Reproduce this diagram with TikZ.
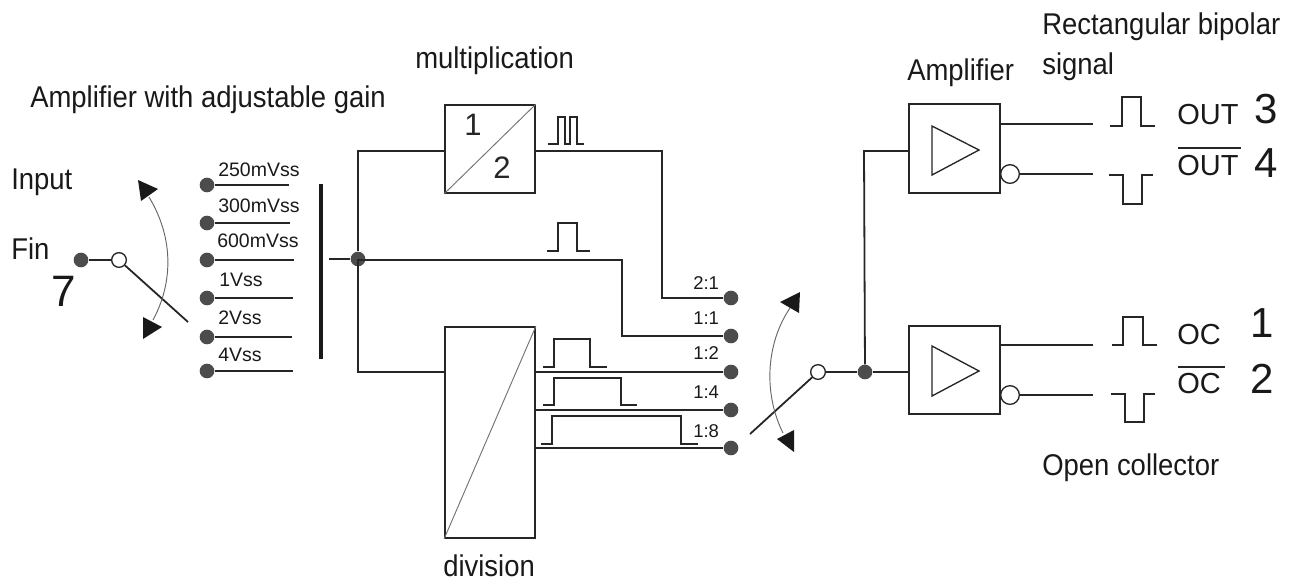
\documentclass[tikz,border=0pt]{standalone}
\usepackage{fontspec}
\setmainfont{Liberation Sans}
\newfontfamily\narrowfont[FakeStretch=0.915]{Liberation Sans}
\makeatletter
\newcommand{\fpx}[1]{\fontsize{\strip@pt\dimexpr#1pt*3/4\relax pt}{\strip@pt\dimexpr#1pt*3/4\relax pt}\selectfont}
\makeatother
\tikzset{
  x=0.75pt,y=-0.75pt,
  wire/.style={draw=black!85,line width=1.35pt},
  thinwire/.style={draw=black!85,line width=1pt},
  dot/.style={circle,fill=black!70,draw=none,inner sep=0pt,minimum size=11pt},
  hole/.style={circle,fill=white,draw=black!85,line width=1pt,inner sep=0pt,minimum size=11pt},
  bubble/.style={circle,fill=white,draw=black!85,line width=1pt,inner sep=0pt,minimum size=14pt},
  blockbox/.style={rectangle,draw=black!85,line width=1.35pt,fill=white,inner sep=0pt},
  head/.style={fill=black!90,draw=none},
  txt/.style={anchor=base west,inner sep=0pt,text=black!90},
  title/.style={txt,font=\narrowfont\fpx{30}},
  small/.style={txt,font=\fpx{19.5}},
  ratio/.style={txt,font=\fpx{18.5}},
  pin/.style={anchor=base,inner sep=0pt,text=black!85,font=\fpx{31}},
  arcline/.style={draw=black!60,line width=0.7pt},
}
\begin{document}
\begin{tikzpicture}
\useasboundingbox (0,0) rectangle (1296,583);
% titles
\node[title] (tAdj) at (30,107) {Amplifier with adjustable gain};
\node[title] (tInput) at (11,189) {Input};
\node[title] (tFin) at (11,259) {Fin};
\node[txt,font=\fpx{44}] (tSeven) at (51,306) {7};
\node[title] (tMul) at (415,68) {multiplication};
\node[title] (tDiv) at (443,576) {division};
\node[title] (tAmp) at (907,80) {Amplifier};
\node[title] (tRect) at (1042,34) {Rectangular bipolar};
\node[title] (tSig) at (1042,74) {signal};
\node[title] (tOC) at (1042,475) {Open collector};
% left switch
\node[dot] (fin) at (81,260) {};
\node[hole] (swL) at (119,260) {};
\coordinate (wipL) at (188,322);
\draw[thinwire] (fin) -- (swL);
\draw[wire] (swL) -- (wipL);
\coordinate (arcLa) at (149,197);
\coordinate (arcLb) at (153,320);
\draw[arcline] (arcLa) .. controls (175,240) and (172,285) .. (arcLb);
\fill[head] (138,180) -- (158,189) -- (141,201) -- cycle;
\fill[head] (143,317) -- (162,327) -- (143,339) -- cycle;
% gain rows
\foreach \n/\y/\e/\t/\lx/\ly in {a/185/289/250mVss/218/176,b/223/290/300mVss/218/212,c/260/294/600mVss/217/247,d/298/293/1Vss/219/286,e/337/292/2Vss/218/324,f/371/293/4Vss/218/361}{
  \node[dot] (g\n) at (207,\y) {};
  \coordinate (ge\n) at (\e,\y);
  \draw[wire] (g\n) -- (ge\n);
  \node[small] (gl\n) at (\lx,\ly) {\t};
}
% bar
\coordinate (barT) at (321,184);
\coordinate (barB) at (321,359);
\draw[draw=black!90,line width=2.4pt] (barT) -- (barB);
% junction
\coordinate (stub) at (329,259);
\node[dot] (jn) at (358,259) {};
% blocks
\node[blockbox,minimum width=67.5pt,minimum height=66pt] (mul) at (490,149) {};
\node[blockbox,minimum width=67.5pt,minimum height=158.25pt] (div) at (490,432.5) {};
\draw[draw=black!55,line width=0.7pt] (mul.south west) -- (mul.north east);
\draw[draw=black!55,line width=0.7pt] (div.south west) -- (div.north east);
\node[pin] (one) at (473,135) {1};
\node[pin] (two) at (502,178) {2};
% connections
\coordinate (m1) at (358,151);
\coordinate (d1) at (358,372);
\coordinate (m3) at (662,151);
\coordinate (m4) at (662,298);
\coordinate (n1) at (622,260);
\coordinate (n2) at (622,336);
\node[dot] (o1) at (731,298) {};
\node[dot] (o2) at (731,336) {};
\node[dot] (o3) at (731,372) {};
\node[dot] (o4) at (731,410) {};
\node[dot] (o5) at (731,448) {};
\draw[wire] (stub) -- (jn) -- (358,260) -- (n1) -- (n2) -- (o2);
\draw[wire] (mul.west |- m1) -- (m1) -- (jn) -- (d1) -- (div.west |- d1);
\draw[wire] (mul.east |- m1) -- (m3) -- (m4) -- (o1);
\draw[wire] (div.east |- o3) -- (o3);
\draw[wire] (div.east |- o4) -- (o4);
\draw[wire] (div.east |- o5) -- (o5);
\foreach \t/\ly/\nm in {2:1/289/ra,1:1/324/rb,1:2/359/rc,1:4/398/rd,1:8/437/re}{
  \node[ratio] (\nm) at (693,\ly) {\t};
}
% middle pulses
\draw[thinwire] (548,144) -- (558,144) -- (558,117) -- (565,117) -- (565,144) -- (570,144) -- (570,117) -- (577,117) -- (577,144) -- (584,144);
\draw[thinwire] (547,251) -- (558,251) -- (558,223) -- (577,223) -- (577,251) -- (590,251);
\draw[thinwire] (543,367) -- (554,367) -- (554,339) -- (590,339) -- (590,367) -- (607,367);
\draw[thinwire] (543,405) -- (554,405) -- (554,378) -- (621,378) -- (621,405) -- (637,405);
\draw[thinwire] (541,444) -- (552,444) -- (552,416) -- (681,416) -- (681,444) -- (698,444);
% right switch
\node[hole] (swR) at (818,372) {};
\node[dot] (jr) at (865,372) {};
\coordinate (wipR) at (750,434);
\draw[wire] (swR) -- (wipR);
\draw[arcline] (790,308) .. controls (765,345) and (764,395) .. (783,433);
\fill[head] (780,302) -- (800,292) -- (799,313) -- cycle;
\fill[head] (777,439) -- (794,430) -- (794,452) -- cycle;
% amplifiers
\node[blockbox,minimum width=68.25pt,minimum height=66.5pt] (ampA) at (954.5,148.5) {};
\node[blockbox,minimum width=68.25pt,minimum height=66.5pt] (ampB) at (954.5,370) {};
\coordinate (up) at (864,151);
\draw[wire] (swR) -- (jr) -- (ampB.west |- jr);
\draw[wire] (jr) -- (up) -- (ampA.west |- up);
\draw[thinwire] (932,126) -- (979,150) -- (932,175) -- cycle;
\draw[thinwire] (932,346) -- (979,371) -- (932,396) -- cycle;
\node[bubble] (bA) at (1010,174) {};
\node[bubble] (bB) at (1010,395) {};
\coordinate (eA1) at (1093,124);
\coordinate (eA2) at (1093,174);
\coordinate (eB1) at (1093,345);
\coordinate (eB2) at (1093,395);
\draw[wire] (ampA.east |- eA1) -- (eA1);
\draw[wire] (bA) -- (eA2);
\draw[wire] (ampB.east |- eB1) -- (eB1);
\draw[wire] (bB) -- (eB2);
% output pulses
\draw[thinwire] (1110,126) -- (1122,126) -- (1122,97) -- (1141,97) -- (1141,126) -- (1155,126);
\draw[thinwire] (1109,175) -- (1123,175) -- (1123,204) -- (1142,204) -- (1142,175) -- (1153,175);
\draw[thinwire] (1112,345) -- (1123,345) -- (1123,317) -- (1143,317) -- (1143,345) -- (1157,345);
\draw[thinwire] (1111,394) -- (1125,394) -- (1125,422) -- (1144,422) -- (1144,394) -- (1155,394);
% output labels
\node[txt,font=\fpx{29}] (lOut) at (1177,124) {OUT};
\node[txt,font=\fpx{29}] (lNout) at (1177,175) {OUT};
\node[txt,font=\fpx{29}] (lOc) at (1177,344) {OC};
\node[txt,font=\fpx{29}] (lNoc) at (1177,393) {OC};
\draw[thinwire] (1178,148) -- (1241,148);
\draw[thinwire] (1178,367) -- (1225,367);
\node[txt,font=\fpx{42}] (n3) at (1254,123) {3};
\node[txt,font=\fpx{42}] (n4) at (1254,177) {4};
\node[txt,font=\fpx{42}] (n1b) at (1250,337) {1};
\node[txt,font=\fpx{42}] (n2b) at (1250,393) {2};
\end{tikzpicture}
\end{document}
